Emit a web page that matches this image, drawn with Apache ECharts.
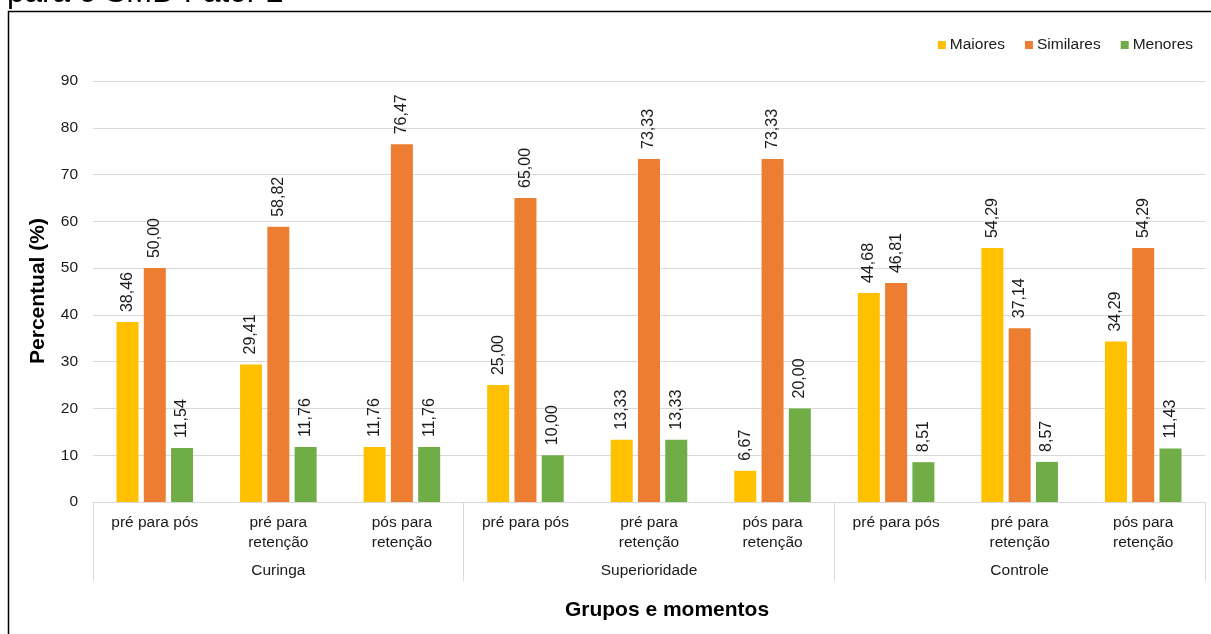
<!DOCTYPE html>
<html>
<head>
<meta charset="utf-8">
<script src="https://cdn.jsdelivr.net/npm/echarts@6/dist/echarts.min.js"></script>
<style>
  html, body { margin: 0; padding: 0; background: #fff; }
  #chart { width: 1211px; height: 634px; }
</style>
</head>
<body>
<div id="chart"></div>
<script>
// Moments compared within each group, and the groups themselves
const moments = ['pré para pós', 'pré para\nretenção', 'pós para\nretenção',
                 'pré para pós', 'pré para\nretenção', 'pós para\nretenção',
                 'pré para pós', 'pré para\nretenção', 'pós para\nretenção'];
const groups = ['Curinga', 'Superioridade', 'Controle'];

// Percentages per category (%)
const maiores   = [38.46, 29.41, 11.76, 25.00, 13.33, 6.67, 44.68, 54.29, 34.29];
const similares = [50.00, 58.82, 76.47, 65.00, 73.33, 73.33, 46.81, 37.14, 54.29];
const menores   = [11.54, 11.76, 11.76, 10.00, 13.33, 20.00, 8.51, 8.57, 11.43];

const yTicks = [0, 10, 20, 30, 40, 50, 60, 70, 80, 90];

const FONT = '"Liberation Sans", Arial, sans-serif';
const TEXT = '#1a1a1a';
const GRID = '#d9d9d9';

const fmt = v => v.toFixed(2).replace('.', ',');

function barSeries(name, data, color) {
  return {
    name: name,
    type: 'bar',
    data: data,
    barWidth: 22,
    barGap: '24%',
    itemStyle: { color: color },
    label: {
      show: true,
      position: 'top',
      rotate: 90,
      align: 'left',
      verticalAlign: 'middle',
      distance: 10,
      fontFamily: FONT,
      fontSize: 16,
      color: TEXT,
      formatter: p => fmt(p.value)
    }
  };
}

const chart = echarts.init(document.getElementById('chart'), null, { renderer: 'canvas' });

chart.setOption({
  animation: false,
  backgroundColor: '#fff',
  textStyle: { fontFamily: FONT },
  grid: { left: 93, right: 6, top: 81, bottom: 132 },
  legend: {
    right: 18,
    top: 37,
    padding: 0,
    icon: 'rect',
    itemWidth: 8,
    itemHeight: 8,
    itemGap: 20,
    textStyle: { fontFamily: FONT, fontSize: 15.5, color: TEXT, padding: [0, 0, 0, -1] },
    data: ['Maiores', 'Similares', 'Menores']
  },
  xAxis: [
    {
      type: 'category',
      data: moments,
      position: 'bottom',
      axisLine: { show: true, lineStyle: { color: GRID, width: 1 } },
      axisTick: { show: false },
      axisLabel: {
        interval: 0,
        margin: 11,
        fontFamily: FONT,
        fontSize: 15.5,
        lineHeight: 20,
        color: TEXT
      }
    },
    {
      type: 'category',
      data: groups,
      position: 'bottom',
      gridIndex: 0,
      axisLine: { show: false },
      axisTick: { show: true, length: 79, lineStyle: { color: GRID, width: 1 } },
      axisLabel: {
        margin: 61,
        fontFamily: FONT,
        fontSize: 15.5,
        color: TEXT
      }
    }
  ],
  yAxis: {
    type: 'value',
    min: yTicks[0],
    max: yTicks[yTicks.length - 1],
    interval: 10,
    axisLine: { show: false },
    axisTick: { show: false },
    splitLine: { lineStyle: { color: GRID, width: 1 } },
    axisLabel: { margin: 15, fontFamily: FONT, fontSize: 15.5, color: TEXT }
  },
  graphic: [
    {
      type: 'rect',
      shape: { x: 8.5, y: 11.5, width: 1400, height: 800 },
      style: { fill: 'none', stroke: '#000', lineWidth: 1.5 },
      z: 100
    },
    {
      type: 'text',
      x: 7,
      y: -7,
      style: {
        text: 'para o SMD Fator 2',
        font: '31.5px ' + FONT,
        fill: '#000',
        align: 'left',
        verticalAlign: 'middle'
      }
    },
    {
      type: 'text',
      x: 667,
      y: 610,
      style: {
        text: 'Grupos e momentos',
        font: 'bold 21px ' + FONT,
        fill: '#000',
        align: 'center',
        verticalAlign: 'middle'
      }
    },
    {
      type: 'text',
      x: 38,
      y: 291,
      rotation: Math.PI / 2,
      style: {
        text: 'Percentual (%)',
        font: 'bold 21px ' + FONT,
        fill: '#000',
        align: 'center',
        verticalAlign: 'middle'
      }
    }
  ],
  series: [
    barSeries('Maiores', maiores, '#FFC000'),
    barSeries('Similares', similares, '#ED7D31'),
    barSeries('Menores', menores, '#70AD47')
  ]
});
</script>
</body>
</html>
